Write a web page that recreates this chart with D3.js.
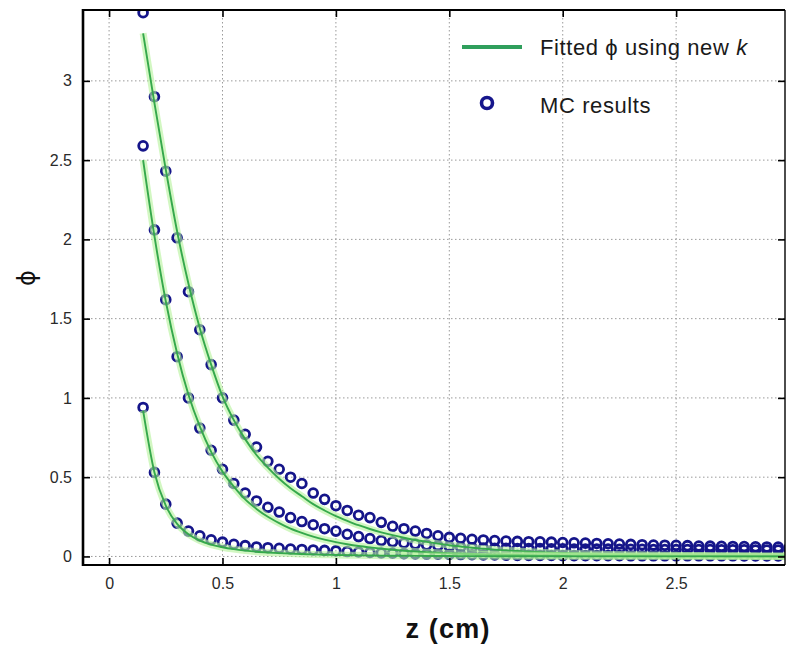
<!DOCTYPE html>
<html>
<head>
<meta charset="utf-8">
<script src="https://cdn.jsdelivr.net/npm/d3@7"></script>
<style>
  html, body { margin: 0; padding: 0; background: #fff; }
  svg { display: block; font-family: "Liberation Sans", Arial, Helvetica, sans-serif; }
</style>
</head>
<body>
<svg id="chart" width="787" height="646"></svg>
<script>
// Depth positions (cm) shared by the Monte Carlo samples and the fitted curves
const zValues = [
  0.15, 0.20, 0.25, 0.30, 0.35, 0.40, 0.45, 0.50, 0.55, 0.60,
  0.65, 0.70, 0.75, 0.80, 0.85, 0.90, 0.95, 1.00, 1.05, 1.10,
  1.15, 1.20, 1.25, 1.30, 1.35, 1.40, 1.45, 1.50, 1.55, 1.60,
  1.65, 1.70, 1.75, 1.80, 1.85, 1.90, 1.95, 2.00, 2.05, 2.10,
  2.15, 2.20, 2.25, 2.30, 2.35, 2.40, 2.45, 2.50, 2.55, 2.60,
  2.65, 2.70, 2.75, 2.80, 2.85, 2.90, 2.95, 3.00
];

// Monte Carlo results, one array per curve
const mcUpper = [
  3.43, 2.90, 2.43, 2.01, 1.67, 1.43, 1.21, 1.00, 0.86, 0.77,
  0.69, 0.60, 0.55, 0.50, 0.46, 0.40, 0.36, 0.32, 0.29, 0.26,
  0.245, 0.215, 0.19, 0.175, 0.16, 0.145, 0.13, 0.12, 0.114, 0.108,
  0.104, 0.100, 0.097, 0.095, 0.093, 0.092, 0.090, 0.088, 0.086, 0.084,
  0.082, 0.080, 0.078, 0.076, 0.074, 0.072, 0.071, 0.070, 0.068, 0.066,
  0.065, 0.064, 0.063, 0.062, 0.061, 0.060, 0.059, 0.058
];
const mcMiddle = [
  2.59, 2.06, 1.62, 1.26, 1.00, 0.81, 0.67, 0.55, 0.46, 0.40,
  0.35, 0.31, 0.28, 0.245, 0.22, 0.20, 0.175, 0.16, 0.14, 0.125,
  0.113, 0.100, 0.092, 0.085, 0.078, 0.072, 0.067, 0.062, 0.058, 0.055,
  0.053, 0.052, 0.051, 0.050, 0.049, 0.049, 0.048, 0.048, 0.047, 0.047,
  0.046, 0.046, 0.045, 0.045, 0.045, 0.044, 0.044, 0.044, 0.043, 0.043,
  0.043, 0.042, 0.042, 0.042, 0.041, 0.041, 0.041, 0.040
];
const mcLower = [
  0.94, 0.53, 0.33, 0.21, 0.16, 0.13, 0.105, 0.090, 0.077, 0.068,
  0.060, 0.055, 0.051, 0.047, 0.044, 0.041, 0.038, 0.035, 0.031, 0.028,
  0.025, 0.022, 0.020, 0.018, 0.016, 0.015, 0.014, 0.013, 0.012, 0.011,
  0.010, 0.009, 0.008, 0.007, 0.007, 0.006, 0.006, 0.005, 0.005, 0.005,
  0.005, 0.005, 0.005, 0.004, 0.004, 0.004, 0.004, 0.004, 0.004, 0.004,
  0.004, 0.004, 0.004, 0.003, 0.003, 0.003, 0.003, 0.003
];

// Fitted phi using the new k, one array per curve
const fitUpper = [
  3.30, 2.86, 2.44, 2.05, 1.72, 1.44, 1.21, 1.01, 0.86, 0.74,
  0.64, 0.56, 0.49, 0.43, 0.38, 0.33, 0.29, 0.255, 0.225, 0.197,
  0.173, 0.152, 0.134, 0.118, 0.104, 0.092, 0.081, 0.071, 0.063, 0.055,
  0.049, 0.043, 0.038, 0.034, 0.030, 0.027, 0.024, 0.021, 0.019, 0.017,
  0.015, 0.013, 0.012, 0.011, 0.010, 0.009, 0.008, 0.007, 0.006, 0.006,
  0.005, 0.005, 0.004, 0.004, 0.004, 0.003, 0.003, 0.003
];
const fitMiddle = [
  2.50, 2.02, 1.61, 1.28, 1.02, 0.82, 0.66, 0.535, 0.44, 0.36,
  0.30, 0.25, 0.21, 0.175, 0.148, 0.125, 0.106, 0.090, 0.077, 0.066,
  0.057, 0.049, 0.042, 0.036, 0.031, 0.027, 0.023, 0.020, 0.017, 0.015,
  0.013, 0.011, 0.010, 0.009, 0.008, 0.007, 0.006, 0.005, 0.004, 0.004,
  0.004, 0.003, 0.003, 0.003, 0.003, 0.002, 0.002, 0.002, 0.002, 0.002,
  0.002, 0.001, 0.001, 0.001, 0.001, 0.001, 0.001, 0.001
];
const fitLower = [
  0.92, 0.53, 0.32, 0.205, 0.14, 0.10, 0.075, 0.058, 0.046, 0.037,
  0.030, 0.025, 0.021, 0.018, 0.015, 0.013, 0.011, 0.0095, 0.008, 0.007,
  0.006, 0.005, 0.0045, 0.004, 0.0035, 0.003, 0.0027, 0.0024, 0.0021, 0.0019,
  0.0017, 0.0015, 0.0013, 0.0012, 0.0011, 0.0010, 0.0009, 0.0008, 0.0007, 0.0007,
  0.0007, 0.0007, 0.0007, 0.0006, 0.0006, 0.0006, 0.0006, 0.0006, 0.0005, 0.0005,
  0.0005, 0.0005, 0.0005, 0.0004, 0.0004, 0.0004, 0.0004, 0.0004
];

// Axis ticks
const xTicks = [0, 0.5, 1, 1.5, 2, 2.5];
const xTickLabels = ["0", "0.5", "1", "1.5", "2", "2.5"];
const yTicks = [0, 0.5, 1, 1.5, 2, 2.5, 3];
const yTickLabels = ["0", "0.5", "1", "1.5", "2", "2.5", "3"];

const legendFitLabel = "Fitted \u03D5 using new ";
const legendFitItalic = "k";
const legendMcLabel = "MC results";
const xAxisTitle = "z (cm)";
const yAxisTitle = "\u03D5";

// ---- layout ----
const plot = { left: 83, right: 785, top: 10, bottom: 565 };
const svg = d3.select("#chart");

const x = d3.scaleLinear().domain([-0.115, 2.98]).range([plot.left, plot.right]);
const y = d3.scaleLinear().domain([-0.054, 3.447]).range([plot.bottom, plot.top]);

svg.append("rect").attr("width", 787).attr("height", 646).attr("fill", "#fff");

svg.append("defs").append("clipPath").attr("id", "plotClip")
  .append("rect")
  .attr("x", plot.left).attr("y", plot.top)
  .attr("width", plot.right - plot.left).attr("height", plot.bottom - plot.top);

// dotted grid
const grid = svg.append("g").attr("class", "grid");
grid.selectAll("line.gx").data(xTicks).join("line")
  .attr("class", "gx")
  .attr("x1", d => x(d)).attr("x2", d => x(d))
  .attr("y1", plot.top).attr("y2", plot.bottom)
  .attr("stroke", "#9a9a9a").attr("stroke-width", 1).attr("stroke-dasharray", "1.5,2.5");
grid.selectAll("line.gy").data(yTicks).join("line")
  .attr("class", "gy")
  .attr("x1", plot.left).attr("x2", plot.right)
  .attr("y1", d => y(d)).attr("y2", d => y(d))
  .attr("stroke", "#9a9a9a").attr("stroke-width", 1).attr("stroke-dasharray", "1.5,2.5");

// data layer
const dataLayer = svg.append("g").attr("clip-path", "url(#plotClip)");

const mcSeries = [mcUpper, mcMiddle, mcLower];
const fitSeries = [fitUpper, fitMiddle, fitLower];

mcSeries.forEach(vals => {
  dataLayer.append("g").selectAll("circle")
    .data(vals.map((v, i) => [zValues[i], v]))
    .join("circle")
    .attr("cx", d => x(d[0]))
    .attr("cy", d => y(d[1]))
    .attr("r", 4.4)
    .attr("fill", "none")
    .attr("stroke", "#15158a")
    .attr("stroke-width", 2.8);
});

const line = d3.line()
  .x((v, i) => x(zValues[i]))
  .y(v => y(v))
  .curve(d3.curveMonotoneX);

fitSeries.forEach(vals => {
  dataLayer.append("path")
    .attr("d", line(vals))
    .attr("fill", "none")
    .attr("stroke", "#b4f29a")
    .attr("stroke-opacity", 0.6)
    .attr("stroke-width", 7);
  dataLayer.append("path")
    .attr("d", line(vals))
    .attr("fill", "none")
    .attr("stroke", "#35a84c")
    .attr("stroke-width", 1.9);
});

// axes: labelled left and bottom, tick-only top and right
const tickFont = 16;
const axB = svg.append("g").attr("transform", `translate(0,${plot.bottom})`)
  .call(d3.axisBottom(x).tickValues(xTicks)
    .tickFormat((d, i) => xTickLabels[i]).tickSize(-7).tickPadding(13));
const axL = svg.append("g").attr("transform", `translate(${plot.left},0)`)
  .call(d3.axisLeft(y).tickValues(yTicks)
    .tickFormat((d, i) => yTickLabels[i]).tickSize(-7).tickPadding(11));
const axT = svg.append("g").attr("transform", `translate(0,${plot.top})`)
  .call(d3.axisTop(x).tickValues(xTicks).tickFormat("").tickSize(-7));
const axR = svg.append("g").attr("transform", `translate(${plot.right},0)`)
  .call(d3.axisRight(y).tickValues(yTicks).tickFormat("").tickSize(-7));

[axB, axL, axT, axR].forEach(g => {
  g.select(".domain").remove();
  g.selectAll(".tick line").attr("stroke", "#000").attr("stroke-width", 1.6);
  g.selectAll(".tick text")
    .attr("fill", "#2a2a2a")
    .attr("font-size", tickFont)
    .attr("font-family", "\"Liberation Sans\", Arial, sans-serif");
});

// frame
const frame = svg.append("g").attr("stroke", "#000").attr("fill", "none");
frame.append("line").attr("x1", plot.left).attr("x2", plot.right)
  .attr("y1", plot.top).attr("y2", plot.top).attr("stroke-width", 1.8);
frame.append("line").attr("x1", plot.right).attr("x2", plot.right)
  .attr("y1", plot.top).attr("y2", plot.bottom).attr("stroke-width", 1.4);
frame.append("line").attr("x1", plot.left).attr("x2", plot.right)
  .attr("y1", plot.bottom).attr("y2", plot.bottom).attr("stroke-width", 2.2);
frame.append("line").attr("x1", plot.left).attr("x2", plot.left)
  .attr("y1", plot.top - 1).attr("y2", plot.bottom + 1).attr("stroke-width", 2.6);

// axis titles
svg.append("text")
  .attr("x", 448).attr("y", 638)
  .attr("text-anchor", "middle")
  .attr("font-size", 27).attr("font-weight", "bold")
  .attr("letter-spacing", 1.2)
  .attr("fill", "#111")
  .text(xAxisTitle);

svg.append("g")
  .attr("transform", "translate(27,278) rotate(-90)")
  .append("text")
  .attr("x", 0).attr("y", 0)
  .attr("text-anchor", "middle")
  .attr("dominant-baseline", "central")
  .attr("font-size", 24)
  .attr("fill", "#111")
  .attr("font-family", "\"DejaVu Sans\", \"Liberation Sans\", sans-serif")
  .text(yAxisTitle);

// legend (no box)
const legend = svg.append("g");
legend.append("line")
  .attr("x1", 462).attr("x2", 522).attr("y1", 47).attr("y2", 47)
  .attr("stroke", "#2f9f5c").attr("stroke-width", 4);
const fitText = legend.append("text")
  .attr("x", 540).attr("y", 47)
  .attr("dominant-baseline", "central")
  .attr("font-size", 22).attr("letter-spacing", 0.6)
  .attr("fill", "#1a1a1a");
fitText.append("tspan").text(legendFitLabel);
fitText.append("tspan").attr("font-style", "italic").text(legendFitItalic);

legend.append("circle")
  .attr("cx", 487).attr("cy", 103).attr("r", 5.5)
  .attr("fill", "none").attr("stroke", "#16168c").attr("stroke-width", 3.6);
legend.append("text")
  .attr("x", 540).attr("y", 105)
  .attr("dominant-baseline", "central")
  .attr("font-size", 22).attr("letter-spacing", 0.6)
  .attr("fill", "#1a1a1a")
  .text(legendMcLabel);
</script>
</body>
</html>
